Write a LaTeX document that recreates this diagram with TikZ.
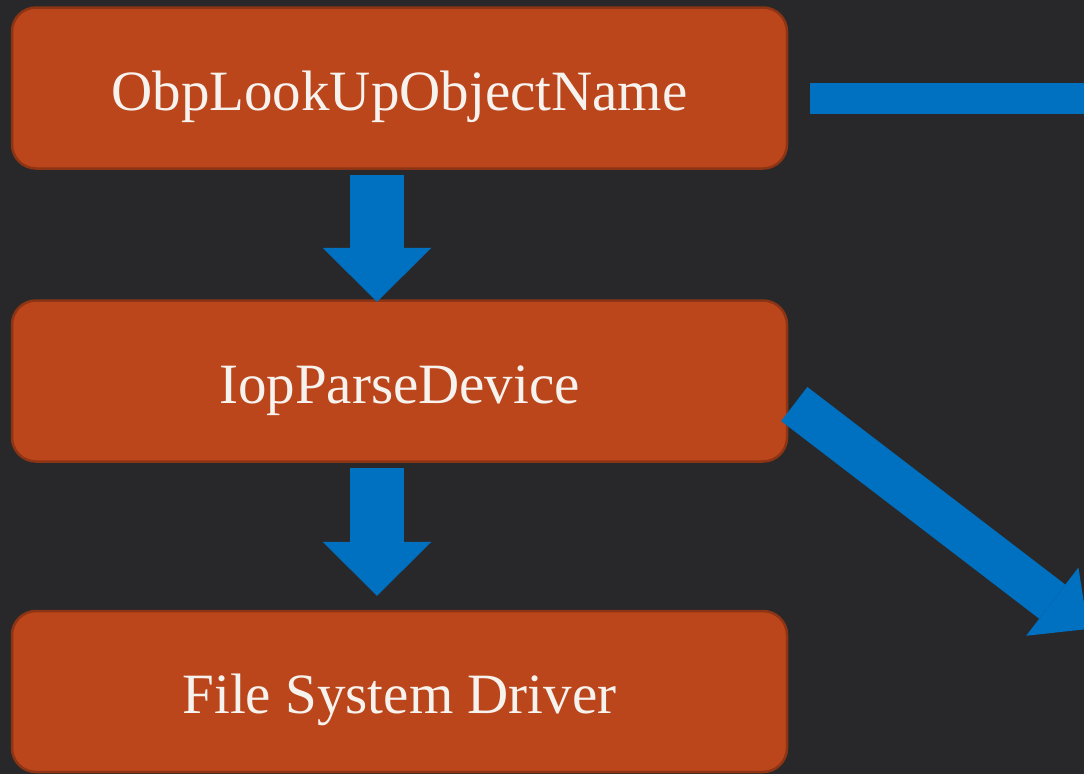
\documentclass[tikz,border=0pt]{standalone}
\usepackage{fontspec}
\setmainfont{Liberation Serif}
\usetikzlibrary{arrows.meta,calc}
\definecolor{bgdark}{HTML}{28282A}
\definecolor{boxfill}{HTML}{BC461B}
\definecolor{boxline}{HTML}{8C3413}
\definecolor{arrowblue}{HTML}{0070C0}
\definecolor{boxtext}{HTML}{F6F2EE}
\tikzset{
  callbox/.style={draw=boxline, line width=2.5pt, fill=boxfill, rounded corners=24pt,
    minimum width=775pt, minimum height=161pt, inner sep=0pt,
    text height=56pt, text depth=12pt,
    text=boxtext, font=\fontsize{57}{60}\selectfont},
  downarrow/.style={draw=arrowblue, line width=54pt,
    -{Triangle[width=109pt, length=54pt, line width=0pt]}},
  slantarrow/.style={draw=arrowblue, line width=43pt,
    -{Triangle[width=86pt, length=45pt, line width=0pt]}},
  flatarrow/.style={draw=arrowblue, line width=31pt}
}
\begin{document}
\begin{tikzpicture}[x=1pt, y=-1pt]
  \useasboundingbox (0,0) rectangle (1084,774);
  \clip (0,0) rectangle (1084,774);
  \fill[bgdark] (0,0) rectangle (1084,774);

  % call chain boxes
  \node[callbox] (b1) at (399.5,88)  {ObpLookUpObjectName};
  \node[callbox] (b2) at (399.5,381) {IopParseDevice};
  \node[callbox] (b3) at (399.5,691.5) {File System Driver};

  % free ends of the arrows that run off to the right
  \coordinate (east1) at (1200,98.5);
  \coordinate (east2) at (1088,629);

  % downward calls
  \draw[downarrow] ($(b1.south)+(-22.5,5.5)$) -- ($(b2.north)+(-22.5,2.5)$);
  \draw[downarrow] ($(b2.south)+(-22.5,5.5)$) -- ($(b3.north)+(-22.5,-14)$);

  % outgoing calls
  \draw[flatarrow] ($(b1.east)+(22,10.5)$) -- (east1);
  \draw[slantarrow] ($(b2.east)+(6,23)$) -- (east2);
\end{tikzpicture}
\end{document}
